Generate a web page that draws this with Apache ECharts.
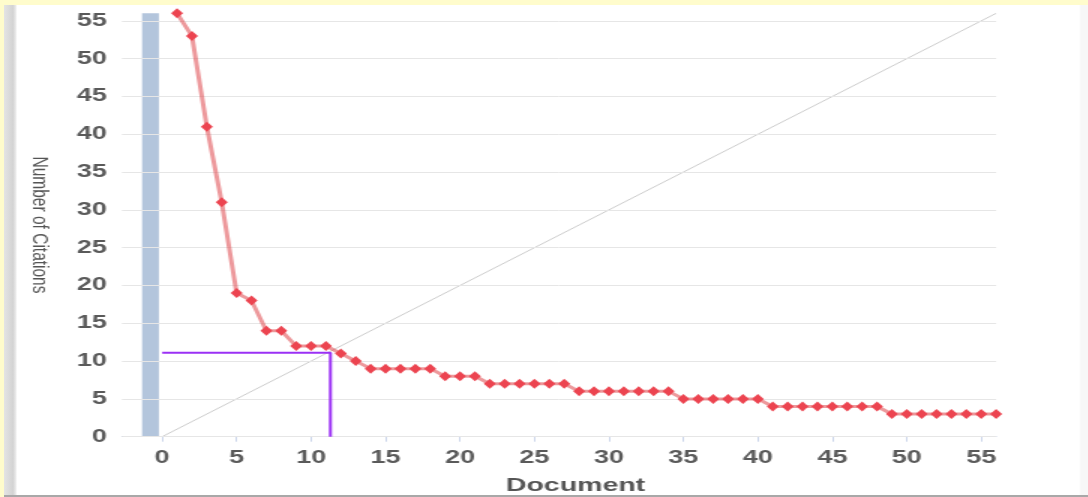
<!DOCTYPE html>
<html>
<head>
<meta charset="utf-8">
<script src="https://cdn.jsdelivr.net/npm/echarts@6/dist/echarts.min.js"></script>
<style>
html,body{margin:0;padding:0;width:1088px;height:497px;overflow:hidden;background:#fffccc;}
#panel{position:absolute;left:4px;top:5px;width:1084px;height:490px;
  background:linear-gradient(to right,#e4e4e4 0px,#d3d3d3 9px,#ececec 12px,#ffffff 13px,#ffffff 1075px,#f7f7f7 1077px);
  border-bottom:2px solid #a8a8a8;}
#chart{position:absolute;left:0;top:0;width:725.333px;height:497px;transform:scaleX(1.5);transform-origin:0 0;}
</style>
</head>
<body>
<div id="panel"></div>
<div id="chart"></div>
<script>
// ---- data ----
const documents = [1,2,3,4,5,6,7,8,9,10,11,12,13,14,15,16,17,18,19,20,21,22,23,24,25,26,27,28,29,30,31,32,33,34,35,36,37,38,39,40,41,42,43,44,45,46,47,48,49,50,51,52,53,54,55,56];
const citations = [56,53,41,31,19,18,14,14,12,12,12,11,10,9,9,9,9,9,8,8,8,7,7,7,7,7,7,6,6,6,6,6,6,6,5,5,5,5,5,5,4,4,4,4,4,4,4,4,3,3,3,3,3,3,3,3];
const xTicks = [0,5,10,15,20,25,30,35,40,45,50,55];
const yTicks = [0,5,10,15,20,25,30,35,40,45,50,55];
const diagonalStart = [0,0];
const diagonalEnd = [56,56];
const hIndexX = 11.3;
const hIndexY = 11.1;
const bandFrom = -1.35;
const bandTo = -0.22;
const bandTop = 56;
const xTitle = 'Document';
const yTitle = 'Number of Citations';

const seriesData = documents.map((d,i)=>[d, citations[i]]);

const chart = echarts.init(document.getElementById('chart'), null, {renderer:'canvas'});
const labelFont = {fontFamily:'Liberation Sans, Arial, sans-serif', fontSize:18, fontWeight:'bold', color:'#5a5a5a'};
chart.setOption({
  animation:false,
  backgroundColor:'transparent',
  grid:{left:81.3, right:60.9, top:13.3, bottom:60.3, containLabel:false, outerBoundsMode:'none'},
  xAxis:{
    type:'value', min:-2.7, max:56,
    name:xTitle, nameLocation:'middle', nameGap:40,
    nameTextStyle:{fontFamily:'Liberation Sans, Arial, sans-serif', fontSize:19, fontWeight:'bold', color:'#555', padding:[0,0,0,22]},
    axisLine:{show:true, lineStyle:{color:'#ccd6eb', width:1}},
    axisTick:{show:true, length:5, customValues:xTicks, lineStyle:{color:'#ccd6eb'}},
    axisLabel:Object.assign({margin:12, customValues:xTicks}, labelFont),
    splitLine:{show:false}
  },
  yAxis:{
    type:'value', min:0, max:56, z:3,
    name:yTitle, nameLocation:'middle', nameGap:47, nameRotate:-90,
    nameTextStyle:{fontFamily:'Liberation Sans, Arial, sans-serif', fontSize:15.5, color:'#555'},
    axisLine:{show:false},
    axisTick:{show:false, customValues:yTicks},
    axisLabel:Object.assign({margin:10, customValues:yTicks}, labelFont),
    splitLine:{show:true, lineStyle:{color:'#e6e6e6', width:1}}
  },
  series:[
    {
      type:'line', data:[], z:-1, silent:true,
      markArea:{silent:true, z:-1, itemStyle:{color:'#b3c5dc'},
        data:[[{coord:[bandFrom,0]},{coord:[bandTo,bandTop]}]]}
    },
    {
      type:'line', data:[diagonalStart, diagonalEnd], symbol:'none', silent:true, z:2,
      lineStyle:{color:'#cccccc', width:1}
    },
    {
      type:'line', data:[[0,hIndexY],[hIndexX,hIndexY],[hIndexX,0]], symbol:'none', silent:true, z:5,
      lineStyle:{color:'#9b30f5', width:2}
    },
    {
      type:'line', data:seriesData, symbol:'diamond', symbolSize:[8,10], z:6, clip:true,
      itemStyle:{color:'#ec4450'},
      lineStyle:{color:'rgba(225,85,90,0.6)', width:3}
    }
  ]
});
</script>
</body>
</html>
